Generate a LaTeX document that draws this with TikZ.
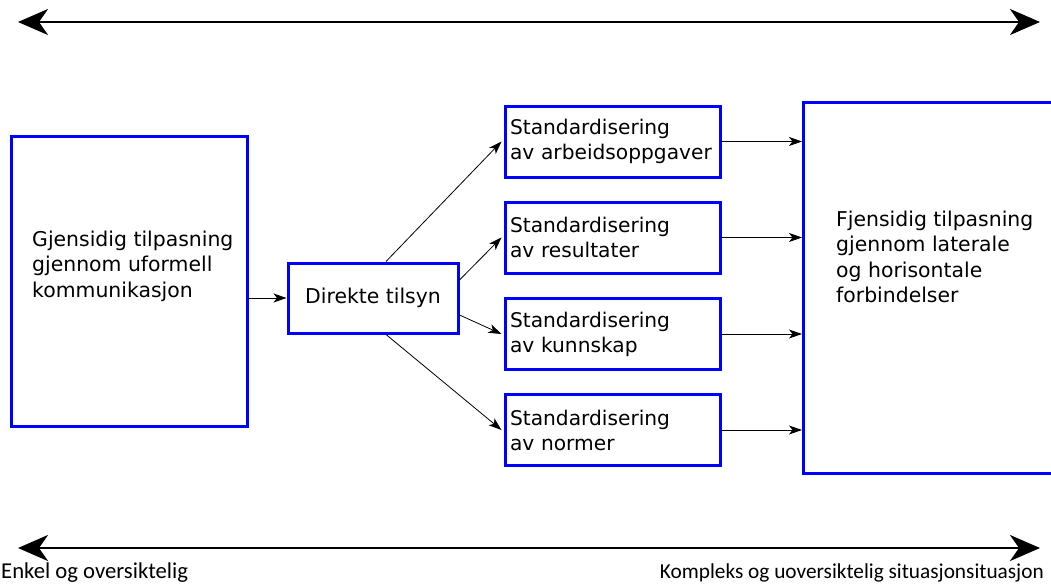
\documentclass[tikz,border=0pt]{standalone}
\usepackage{fontspec}
\setmainfont{DejaVu Sans}
\newfontfamily\calfont{Carlito}
\usetikzlibrary{positioning}
\usetikzlibrary{calc}
\usetikzlibrary{arrows.meta}

\begin{document}
\begin{tikzpicture}[x=1pt,y=-1pt,->,>={Stealth[length=13pt,width=9pt,inset=3.5pt]}]
				\tikzset{box/.style = {shape=rectangle, draw=blue, line width=3pt, inner sep=0pt},
					stdbox/.style = {box, minimum width=215pt, minimum height=71pt, align=left, text width=205pt, font=\fontsize{20.2}{25}\selectfont},
					txt/.style = {align=left, inner sep=0pt, font=\fontsize{20.4}{25.5}\selectfont},
					lbl/.style = {inner sep=0pt, font=\calfont\fontsize{22.7}{26}\selectfont},
					bigarrow/.style = {<->, line width=2.8pt, >={Stealth[length=30pt,width=26pt,inset=9pt]}},
					link/.style = {line width=0.8pt}}
				\useasboundingbox (0,0) rectangle (1051,586);
				
				% venstre og hoyre boks
				\node[box, anchor=north west, minimum width=236pt, minimum height=290pt] (LEFT) at (10,135) {};
				\node[txt, anchor=west] (LEFTTXT) at (32,266)
				{Gjensidig tilpasning \\ gjennom uformell \\ kommunikasjon};
				\node[box, anchor=north west, minimum width=280pt, minimum height=371pt] (RIGHT) at (802,101) {};
				\node[txt, anchor=west] (RIGHTTXT) at (836,257)
				{Fjensidig tilpasning \\ gjennom laterale \\ og horisontale \\ forbindelser};
				
				% midten
				\node[box, minimum width=170pt, minimum height=70pt, font=\fontsize{20.4}{25}\selectfont] (TILSYN) at (373,298) {Direkte tilsyn};
				\node[stdbox] (OPPG) at (612.5,141.5) {Standardisering \\ av arbeidsoppgaver};
				\node[stdbox] (RES) at (612.5,237.5) {Standardisering \\ av resultater};
				\node[stdbox] (KUNN) at (612.5,334) {Standardisering \\ av kunnskap};
				\node[stdbox] (NORM) at (612.5,430) {Standardisering \\ av normer};
				
				\draw[link] (LEFT.east |- TILSYN.west) -- (TILSYN.west);
				\draw[link] ([xshift=13pt]TILSYN.north) -- ([xshift=-2pt]OPPG.west);
				\draw[link] ([yshift=18pt]TILSYN.east) -- ([xshift=-2pt]RES.west);
				\draw[link] ([yshift=-17pt]TILSYN.east) -- ([xshift=-2pt]KUNN.west);
				\draw[link] ([xshift=13pt]TILSYN.south) -- ([xshift=-2pt]NORM.west);
				\draw[link] (OPPG.east) -- (RIGHT.west |- OPPG.east);
				\draw[link] (RES.east) -- (RIGHT.west |- RES.east);
				\draw[link] (KUNN.east) -- (RIGHT.west |- KUNN.east);
				\draw[link] (NORM.east) -- (RIGHT.west |- NORM.east);
				
				% skalaene
				\coordinate (TL) at (18,22);
				\coordinate (TR) at (1040,22);
				\coordinate (BL) at (18,548);
				\coordinate (BR) at (1040,548);
				\draw[bigarrow] (TL) -- (TR);
				\draw[bigarrow] (BL) -- (BR);
				\node[lbl, anchor=base west] (ENKEL) at (1,578) {Enkel og oversiktelig};
				\node[lbl, anchor=base east, font=\calfont\fontsize{21.3}{26}\selectfont] (KOMPLEKS) at (1044,578) {Kompleks og uoversiktelig situasjonsituasjon};
				
				\end{tikzpicture}
\end{document}
